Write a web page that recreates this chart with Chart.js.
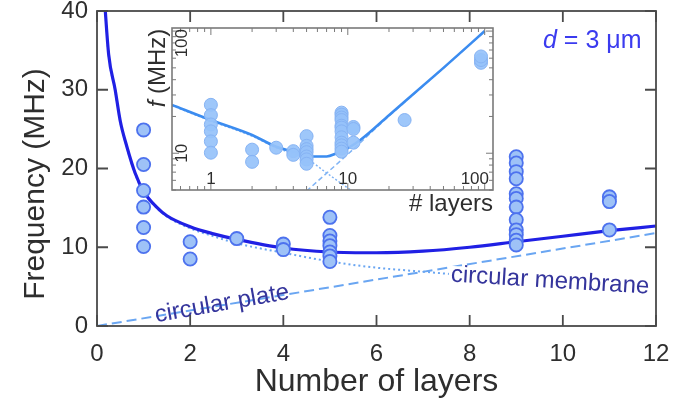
<!DOCTYPE html>
<html>
<head>
<meta charset="utf-8">
<script src="https://cdn.jsdelivr.net/npm/chart.js@4/dist/chart.umd.min.js"></script>
<style>
    html, body { margin: 0; padding: 0; background: #fff; }
    #wrap { position: relative; width: 686px; height: 411px; overflow: hidden; }
    #mainChart { position: absolute; left: 0; top: 0; }
    #insetChart { position: absolute; left: 140px; top: 20px; }
</style>
</head>
<body>
<div id="wrap">
    <canvas id="mainChart" width="686" height="411"></canvas>
    <canvas id="insetChart" width="365" height="200"></canvas>
</div>
<script>
// Measured resonance frequencies (MHz) against number of layers
const layers = [1, 1, 1, 1, 1, 1,
                2, 2,
                3,
                4, 4,
                5, 5, 5, 5, 5, 5, 5,
                9, 9, 9, 9, 9, 9, 9, 9, 9, 9, 9, 9,
                11, 11, 11];
const freqs = [24.9, 20.5, 17.2, 15.1, 12.5, 10.1,
               10.7, 8.5,
               11.1,
               10.4, 9.7,
               13.8, 11.5, 10.8, 10.2, 9.4, 8.9, 8.2,
               21.5, 20.7, 19.6, 18.7, 16.8, 16.2, 15.1, 13.5, 12.2, 11.6, 10.9, 10.3,
               16.4, 15.8, 12.2];

// Thick flakes, only shown on the log-log inset
const thickLayers = [26, 94, 94, 94];
const thickFreqs = [18.7, 55, 58, 62];

// Model curves, main panel
const fitLayers = [0.16, 0.25, 0.39, 0.5, 0.64, 0.82, 1, 1.28, 1.5, 2, 2.5, 3, 4, 5, 6, 7, 8, 9, 10, 11, 12];
const fitFreqs = [41.5, 34.5, 30, 26, 22.8, 19.4, 17.1, 15.1, 14.0, 12.6, 11.7, 11.0, 9.9, 9.4, 9.3, 9.5, 10.0, 10.7, 11.4, 12.1, 12.7];
const membraneLayers = [0.16, 0.25, 0.39, 0.5, 0.64, 0.82, 1, 1.28, 1.5, 2, 2.5, 3, 4, 5, 6, 7, 8, 9, 10, 11, 12];
const membraneFreqs = [41.4, 34.4, 29.9, 25.9, 22.7, 19.3, 17.0, 15.0, 13.9, 12.4, 11.4, 10.5, 9.3, 8.2, 7.4, 6.9, 6.4, 6.0, 5.7, 5.4, 5.2];
const plateLayers = [0, 6, 12];
const plateFreqs = [0, 5.9, 11.8];

// Model curves, inset
const insetFitLayers = [0.52, 1, 2, 3, 4, 5, 5.6, 7, 8.3, 10, 12.4, 20, 50, 100];
const insetFitFreqs = [24.9, 18.7, 14.1, 11.3, 10.3, 9.7, 9.4, 9.4, 10.0, 11.0, 12.9, 20.5, 50, 100];
const insetMembraneLayers = [0.52, 1, 2, 3, 5, 7, 8.5, 10.5];
const insetMembraneFreqs = [24.5, 18.4, 13.8, 11.1, 9.0, 6.9, 5.9, 5.0];
const insetPlateLayers = [5, 10, 20, 50, 100];
const insetPlateFreqs = [4.9, 9.8, 20.2, 49.8, 99.6];

const xTicks = [0, 2, 4, 6, 8, 10, 12];
const yTicks = [0, 10, 20, 30, 40];

const FONT = '"Liberation Sans", Arial, Helvetica, sans-serif';
const TEXT_GREY = '#2e2e2e';


function toXY(xs, ys) {
    return xs.map((x, i) => ({ x: x, y: ys[i] }));
}


// Rotated label; optional white patch so the curve underneath doesn't show through
function rotatedLabel(ctx, text, cx, cy, deg, knockout) {
    ctx.save();
    ctx.translate(cx, cy);
    ctx.rotate(deg * Math.PI / 180);
    if (knockout) {
        const w = ctx.measureText(text).width;
        ctx.fillStyle = '#fff';
        ctx.fillRect(-w / 2 - 2, -9, w + 12, 22);
    }
    ctx.fillStyle = '#35359c';
    ctx.fillText(text, 0, 0);
    ctx.restore();
}


// Box around the plot area with inward ticks on all four sides
const mainDecor = {
    id: 'mainDecor',
    afterDraw(chart) {
        const { ctx, chartArea: a, scales } = chart;
        ctx.save();

        // Curve labels go first so the frame stays on top of them
        ctx.textAlign = 'center';
        ctx.textBaseline = 'middle';
        ctx.font = `24px ${FONT}`;
        rotatedLabel(ctx, 'circular plate', 222, 304, -10, false);
        rotatedLabel(ctx, 'circular membrane', 550, 281, 3.5, true);

        ctx.strokeStyle = '#4a4a4a';
        ctx.lineWidth = 1.8;
        ctx.strokeRect(a.left, a.top, a.right - a.left, a.bottom - a.top);

        const len = 11;
        ctx.beginPath();
        for (const v of xTicks) {
            const px = scales.x.getPixelForValue(v);
            ctx.moveTo(px, a.bottom); ctx.lineTo(px, a.bottom - len);
            ctx.moveTo(px, a.top); ctx.lineTo(px, a.top + len);
        }
        for (const v of yTicks) {
            const py = scales.y.getPixelForValue(v);
            ctx.moveTo(a.left, py); ctx.lineTo(a.left + len, py);
            ctx.moveTo(a.right, py); ctx.lineTo(a.right - len, py);
        }
        ctx.stroke();

        // Axis titles
        ctx.fillStyle = TEXT_GREY;
        ctx.font = `32px ${FONT}`;
        ctx.fillText('Number of layers', (a.left + a.right) / 2, 382);
        ctx.font = `30px ${FONT}`;
        ctx.save();
        ctx.translate(36, 184);
        ctx.rotate(-Math.PI / 2);
        ctx.fillText('Frequency (MHz)', 0, 0);
        ctx.restore();

        // Hole diameter
        ctx.fillStyle = '#3b3bef';
        ctx.textAlign = 'left';
        ctx.font = `italic 25px ${FONT}`;
        const dW = ctx.measureText('d').width;
        ctx.fillText('d', 543, 41);
        ctx.font = `25px ${FONT}`;
        ctx.fillText(' = 3 \u03bcm', 543 + dW, 41);
        ctx.restore();
    }
};


// Inset: white panel, log ticks pointing inward, labels inside the frame
const insetDecor = {
    id: 'insetDecor',
    beforeDatasetsDraw(chart) {
        const { ctx, chartArea: a } = chart;
        ctx.save();
        ctx.fillStyle = '#fff';
        ctx.fillRect(a.left, a.top, a.right - a.left, a.bottom - a.top);
        ctx.restore();
    },
    afterDatasetsDraw(chart) {
        const { ctx, chartArea: a, scales } = chart;
        const x = scales.x, y = scales.y;
        ctx.save();
        ctx.strokeStyle = '#7a7a7a';
        ctx.lineWidth = 1.6;
        ctx.strokeRect(a.left, a.top, a.right - a.left, a.bottom - a.top);

        ctx.lineWidth = 1;
        ctx.beginPath();
        for (const dec of [0.1, 1, 10, 100]) {
            for (let m = 1; m <= 9; m++) {
                const v = m * dec;
                const len = m === 1 ? 7 : 4;
                if (v >= x.min && v <= x.max) {
                    const px = x.getPixelForValue(v);
                    ctx.moveTo(px, a.bottom); ctx.lineTo(px, a.bottom - len);
                    ctx.moveTo(px, a.top); ctx.lineTo(px, a.top + len);
                }
                if (v >= y.min && v <= y.max) {
                    const py = y.getPixelForValue(v);
                    ctx.moveTo(a.left, py); ctx.lineTo(a.left + len, py);
                    ctx.moveTo(a.right, py); ctx.lineTo(a.right - len, py);
                }
            }
        }
        ctx.stroke();

        ctx.fillStyle = TEXT_GREY;
        ctx.font = `17px ${FONT}`;
        ctx.textAlign = 'center';
        ctx.textBaseline = 'middle';
        for (const v of [1, 10, 100]) {
            const w = ctx.measureText(String(v)).width;
            const px = Math.min(x.getPixelForValue(v), a.right - w / 2 - 4);
            ctx.fillText(String(v), px, a.bottom - 11);
        }
        for (const v of [10, 100]) {
            const w = ctx.measureText(String(v)).width;
            const py = Math.max(y.getPixelForValue(v), a.top + w / 2 + 1);
            ctx.save();
            ctx.translate(a.left + 10, py);
            ctx.rotate(-Math.PI / 2);
            ctx.fillText(String(v), 0, 0);
            ctx.restore();
        }

        // Axis titles of the inset
        ctx.font = `24px ${FONT}`;
        ctx.textAlign = 'right';
        ctx.fillText('# layers', a.right, a.bottom + 14);

        ctx.save();
        ctx.translate(18, 48);
        ctx.rotate(-Math.PI / 2);
        ctx.font = `italic 24px ${FONT}`;
        const fW = ctx.measureText('f').width;
        ctx.font = `24px ${FONT}`;
        const restW = ctx.measureText(' (MHz)').width;
        const x0 = -(fW + restW) / 2;
        ctx.textAlign = 'left';
        ctx.font = `italic 24px ${FONT}`;
        ctx.fillText('f', x0, 0);
        ctx.font = `24px ${FONT}`;
        ctx.fillText(' (MHz)', x0 + fW, 0);
        ctx.restore();
        ctx.restore();
    }
};


function generateMainChart() {
    const pointFill = '#9ec2f7';
    const pointEdge = '#4d72ee';
    const modelBlue = '#2020e4';
    const lightBlue = '#6aa6f2';

    return new Chart(
        document.getElementById('mainChart').getContext('2d'),
        {
            type: 'scatter',
            data: {
                datasets: [
                    {
                        label: 'measured',
                        data: toXY(layers, freqs),
                        pointRadius: 6.6,
                        pointBorderWidth: 1.8,
                        backgroundColor: pointFill,
                        borderColor: pointEdge
                    },
                    {
                        label: 'model',
                        data: toXY(fitLayers, fitFreqs),
                        showLine: true,
                        pointRadius: 0,
                        borderColor: modelBlue,
                        borderWidth: 3.2,
                        cubicInterpolationMode: 'monotone',
                        clip: 0
                    },
                    {
                        label: 'circular membrane',
                        data: toXY(membraneLayers, membraneFreqs),
                        showLine: true,
                        pointRadius: 0,
                        borderColor: lightBlue,
                        borderWidth: 2,
                        borderDash: [2, 3],
                        cubicInterpolationMode: 'monotone',
                        clip: 0
                    },
                    {
                        label: 'circular plate',
                        data: toXY(plateLayers, plateFreqs),
                        showLine: true,
                        pointRadius: 0,
                        borderColor: lightBlue,
                        borderWidth: 2,
                        borderDash: [10, 5],
                        clip: 0
                    }
                ]
            },
            options: {
                responsive: false,
                animation: false,
                events: [],
                layout: { padding: { left: 0, top: 11, right: 30, bottom: 0 } },
                plugins: { legend: { display: false }, tooltip: { enabled: false } },
                scales: {
                    x: {
                        type: 'linear',
                        min: 0,
                        max: 12,
                        grid: { display: false, drawTicks: false },
                        border: { display: false },
                        afterBuildTicks: s => { s.ticks = xTicks.map(v => ({ value: v })); },
                        afterFit: s => { s.height = 85; s.paddingLeft = 0; s.paddingRight = 0; },
                        ticks: {
                            padding: 14,
                            color: TEXT_GREY,
                            font: { family: FONT, size: 24 },
                            maxRotation: 0
                        }
                    },
                    y: {
                        type: 'linear',
                        min: 0,
                        max: 40,
                        grid: { display: false, drawTicks: false },
                        border: { display: false },
                        afterBuildTicks: s => { s.ticks = yTicks.map(v => ({ value: v })); },
                        afterFit: s => { s.width = 97; s.paddingTop = 0; s.paddingBottom = 0; },
                        ticks: {
                            padding: 9,
                            color: TEXT_GREY,
                            font: { family: FONT, size: 24 }
                        }
                    }
                }
            },
            plugins: [mainDecor]
        }
    );
}


function generateInset() {
    const pointFill = 'rgba(150, 194, 250, 0.92)';
    const pointEdge = '#86b3f4';
    const lineBlue = '#3b8cf0';
    const lightBlue = '#80b4f5';

    return new Chart(
        document.getElementById('insetChart').getContext('2d'),
        {
            type: 'scatter',
            data: {
                datasets: [
                    {
                        label: 'measured',
                        data: toXY(layers.concat(thickLayers), freqs.concat(thickFreqs)),
                        pointRadius: 6.5,
                        pointBorderWidth: 1,
                        backgroundColor: pointFill,
                        borderColor: pointEdge
                    },
                    {
                        label: 'model',
                        data: toXY(insetFitLayers, insetFitFreqs),
                        showLine: true,
                        pointRadius: 0,
                        borderColor: lineBlue,
                        borderWidth: 2.6,
                        cubicInterpolationMode: 'monotone'
                    },
                    {
                        label: 'membrane',
                        data: toXY(insetMembraneLayers, insetMembraneFreqs),
                        showLine: true,
                        pointRadius: 0,
                        borderColor: lightBlue,
                        borderWidth: 1.5,
                        borderDash: [2, 2],
                        cubicInterpolationMode: 'monotone'
                    },
                    {
                        label: 'plate',
                        data: toXY(insetPlateLayers, insetPlateFreqs),
                        showLine: true,
                        pointRadius: 0,
                        borderColor: lightBlue,
                        borderWidth: 1.5,
                        borderDash: [5, 3]
                    }
                ]
            },
            options: {
                responsive: false,
                animation: false,
                events: [],
                layout: { padding: { left: 32, top: 8, right: 12, bottom: 30 } },
                plugins: { legend: { display: false }, tooltip: { enabled: false } },
                scales: {
                    x: { type: 'logarithmic', min: 0.52, max: 115, display: false },
                    y: { type: 'logarithmic', min: 5, max: 106, display: false }
                }
            },
            plugins: [insetDecor]
        }
    );
}


generateMainChart();
generateInset();
</script>
</body>
</html>
